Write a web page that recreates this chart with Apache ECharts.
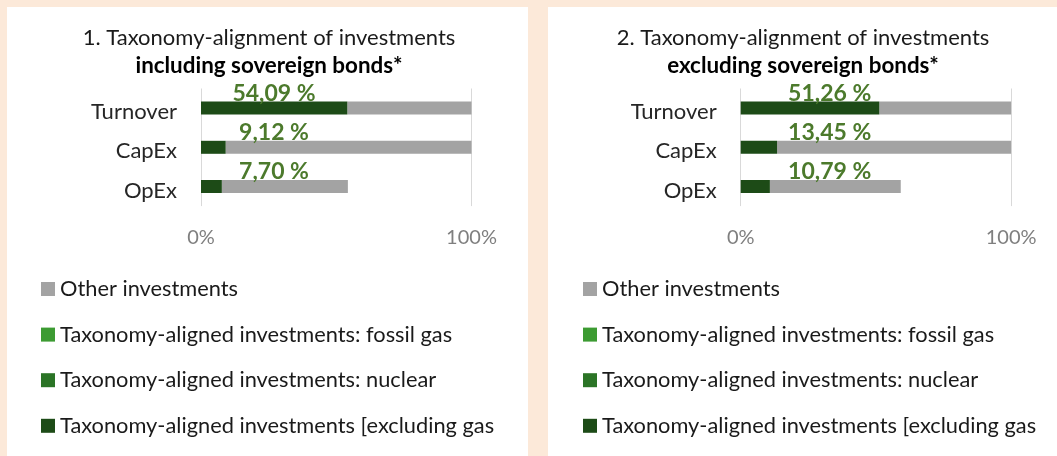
<!DOCTYPE html>
<html>
<head>
<meta charset="utf-8">
<script src="https://cdn.jsdelivr.net/npm/echarts@6/dist/echarts.min.js"></script>
<style>
html,body{margin:0;padding:0;background:#fce9d9;}
#chart{width:1057px;height:456px;}
</style>
</head>
<body>
<div id="chart"></div>
<script>
// ---- data ----
const categories = ['Turnover', 'CapEx', 'OpEx'];
const seriesNames = [
  'Other investments',
  'Taxonomy-aligned investments: fossil gas',
  'Taxonomy-aligned investments: nuclear',
  'Taxonomy-aligned investments [excluding gas'
];
// Panel 1: including sovereign bonds
const p1Aligned = [54.09, 9.12, 7.70];
const p1Nuclear = [0, 0, 0];
const p1Gas = [0, 0, 0];
const p1Other = [45.91, 90.88, 46.6];
// Panel 2: excluding sovereign bonds
const p2Aligned = [51.26, 13.45, 10.79];
const p2Nuclear = [0, 0, 0];
const p2Gas = [0, 0, 0];
const p2Other = [48.74, 86.55, 48.4];
const xTicks = {0: '0%', 100: '100%'};
const titles1 = ['1. Taxonomy-alignment of investments', 'including sovereign bonds*'];
const titles2 = ['2. Taxonomy-alignment of investments', 'excluding sovereign bonds*'];

const FONT = 'Lato';
const colors = {
  other: '#a3a3a3',
  gas: '#3c9b32',
  nuclear: '#2b7426',
  aligned: '#1d4b17'
};
const labelColor = '#4c7a2c';

function fmt(v) { return v.toFixed(2).replace('.', ',') + ' %'; }

function panelSeries(idx, aligned, nuclear, gas, other, labelX) {
  const stack = 's' + idx;
  const common = {type: 'bar', stack: stack, xAxisIndex: idx, yAxisIndex: idx, barWidth: 13};
  return [
    Object.assign({}, common, {
      name: seriesNames[3], data: aligned, itemStyle: {color: colors.aligned},
      label: {
        show: true, position: [labelX, -8], align: 'center', verticalAlign: 'middle',
        formatter: p => fmt(p.value), color: labelColor, fontFamily: FONT,
        fontSize: 23, fontWeight: 'bold'
      },
      z: 3
    }),
    Object.assign({}, common, {name: seriesNames[2], data: nuclear, itemStyle: {color: colors.nuclear}}),
    Object.assign({}, common, {name: seriesNames[1], data: gas, itemStyle: {color: colors.gas}}),
    Object.assign({}, common, {name: seriesNames[0], data: other, itemStyle: {color: colors.other}, z: 2})
  ];
}

function xAxis(idx) {
  return {
    type: 'value', gridIndex: idx, min: 0, max: 100, interval: 100,
    axisLine: {show: false}, axisTick: {show: false},
    splitLine: {show: true, lineStyle: {color: '#d9d9d9', width: 1}},
    axisLabel: {
      formatter: v => xTicks[v], color: '#7f7f7f', fontFamily: FONT, fontSize: 20, margin: 21
    }
  };
}
function yAxis(idx) {
  return {
    type: 'category', gridIndex: idx, data: categories, inverse: true,
    axisLine: {show: false}, axisTick: {show: false},
    axisLabel: {color: '#262626', fontFamily: FONT, fontSize: 22, margin: 24,
      verticalAlign: 'top', lineHeight: 8}
  };
}
function title(text, centerX) {
  return {
    text: text[0], subtext: text[1], left: centerX, top: 22, textAlign: 'center', itemGap: 6,
    textStyle: {fontFamily: FONT, fontSize: 22, lineHeight: 22, fontWeight: 'normal', color: '#1a1a1a'},
    subtextStyle: {fontFamily: FONT, fontSize: 22.4, lineHeight: 22, fontWeight: 'bold', color: '#000'}
  };
}
function legend(left) {
  return {
    left: left, top: 273, orient: 'vertical', icon: 'rect', itemWidth: 14, itemHeight: 14,
    itemGap: 23.6, selectedMode: false,
    data: seriesNames,
    textStyle: {fontFamily: FONT, fontSize: 21.8, lineHeight: 22, color: '#1a1a1a'}
  };
}

const chart = echarts.init(document.getElementById('chart'), null, {renderer: 'canvas'});
chart.setOption({
  backgroundColor: '#fce9d9',
  animation: false,
  graphic: [
    {type: 'rect', shape: {x: 7, y: 7, width: 521, height: 460}, style: {fill: '#ffffff'}, z: -10, silent: true},
    {type: 'rect', shape: {x: 548, y: 7, width: 520, height: 460}, style: {fill: '#ffffff'}, z: -10, silent: true}
  ],
  title: [title(titles1, 264), title(titles2, 798)],
  legend: [legend(36), legend(578)],
  grid: [
    {left: 201, width: 270.5, top: 88.5, height: 117.6},
    {left: 740.7, width: 270.4, top: 88.5, height: 117.6}
  ],
  xAxis: [xAxis(0), xAxis(1)],
  yAxis: [yAxis(0), yAxis(1)],
  series: [].concat(
    panelSeries(0, p1Aligned, p1Nuclear, p1Gas, p1Other, 73),
    panelSeries(1, p2Aligned, p2Nuclear, p2Gas, p2Other, 89)
  )
});
</script>
</body>
</html>
